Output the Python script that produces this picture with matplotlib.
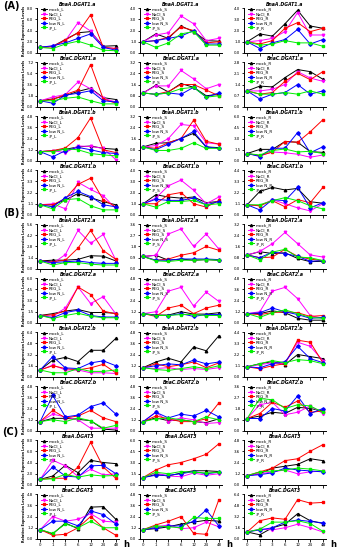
import numpy as np
import matplotlib
matplotlib.use("Agg")
import matplotlib.pyplot as plt

# time points (h) and treatments
times = ["0", "1", "3", "6", "12", "24", "48"]
treatments = ["mock", "NaCl", "PEG", "low N", "-P"]
colors = ["#000000", "#FF00FF", "#FF0000", "#0000FF", "#00EE00"]
markers = ["^", "v", "s", "D", "s"]
tissues = ["L", "S", "R"]

genes = ["BnaA.DGAT1.a", "BnaC.DGAT1.a", "BnaA.DGAT1.b", "BnaC.DGAT1.b",
         "BnaA.DGAT2.a", "BnaC.DGAT2.a", "BnaA.DGAT2.b", "BnaC.DGAT2.b",
         "BnaA.DGAT3", "BnaC.DGAT3"]

# y-axis top per row, leaf / stem / root
ymax_L = [8.0, 7.2, 4.8, 4.4, 5.6, 6.0, 6.4, 4.8, 8.0, 4.8]
ymax_S = [4.0, 3.2, 3.2, 4.0, 3.6, 4.8, 4.8, 4.8, 6.0, 4.8]
ymax_R = [4.0, 2.8, 6.0, 4.4, 3.2, 4.8, 4.4, 3.6, 4.8, 6.4]

# relative expression levels: rows = mock, NaCl, PEG, low N, -P
# --- (A) DGAT1
a_dgat1a_L = [[1.0, 1.2, 2.4, 3.6, 3.8, 1.2, 1.3],
              [1.0, 1.2, 2.2, 5.4, 3.9, 1.0, 0.8],
              [1.0, 1.1, 2.3, 3.6, 6.8, 1.0, 0.8],
              [1.0, 1.3, 1.8, 2.6, 3.4, 1.0, 0.5],
              [1.0, 0.8, 1.6, 2.1, 1.4, 0.5, 0.4]]
a_dgat1a_S = [[1.0, 1.7, 1.3, 2.4, 1.9, 1.1, 1.05],
              [1.0, 1.6, 1.8, 3.3, 2.6, 1.1, 1.3],
              [1.0, 1.1, 1.4, 2.3, 2.0, 0.9, 1.0],
              [1.0, 1.1, 1.3, 1.5, 2.0, 0.8, 0.8],
              [1.0, 0.5, 0.9, 1.7, 1.9, 0.7, 0.7]]
a_dgat1a_R = [[1.0, 1.7, 1.5, 2.6, 3.8, 2.4, 2.2],
              [1.0, 1.1, 1.3, 1.9, 3.6, 1.6, 1.6],
              [1.0, 0.8, 1.1, 2.2, 2.7, 1.9, 2.2],
              [1.0, 0.4, 0.9, 1.2, 2.1, 0.8, 1.2],
              [1.0, 0.7, 0.8, 1.1, 0.9, 0.9, 0.6]]

c_dgat1a_L = [[1.0, 1.3, 1.8, 2.5, 3.0, 1.5, 1.2],
              [1.0, 1.6, 2.0, 4.0, 2.9, 1.4, 0.8],
              [1.0, 1.2, 2.0, 2.7, 6.8, 1.3, 0.6],
              [1.0, 0.6, 1.9, 2.2, 2.6, 1.0, 0.8],
              [1.0, 1.0, 1.4, 1.6, 1.0, 0.5, 0.5]]
c_dgat1a_S = [[1.0, 1.55, 1.07, 1.67, 1.4, 0.8, 0.9],
              [1.0, 1.5, 1.5, 2.6, 2.0, 1.3, 1.6],
              [1.0, 0.9, 1.1, 1.6, 1.6, 1.2, 0.8],
              [1.0, 0.9, 1.0, 0.9, 1.4, 0.7, 1.0],
              [1.0, 0.9, 1.0, 1.3, 1.4, 0.7, 0.8]]
c_dgat1a_R = [[1.0, 1.3, 1.25, 1.83, 2.33, 2.2, 1.73],
              [1.0, 1.0, 1.1, 1.4, 2.2, 1.8, 1.6],
              [1.0, 0.8, 0.9, 1.6, 2.1, 1.7, 2.2],
              [1.0, 0.5, 0.8, 0.9, 1.4, 0.8, 1.0],
              [1.0, 0.8, 0.8, 0.9, 0.8, 1.0, 0.8]]

a_dgat1b_L = [[1.0, 1.1, 1.25, 1.5, 1.6, 1.35, 1.25],
              [1.0, 1.1, 0.9, 1.6, 1.55, 1.35, 0.15],
              [1.0, 1.1, 1.4, 2.5, 4.6, 1.2, 0.9],
              [1.0, 0.45, 1.1, 1.45, 1.2, 0.9, 0.8],
              [1.0, 1.0, 1.3, 1.2, 0.8, 0.65, 0.55]]
a_dgat1b_S = [[1.0, 1.26, 1.3, 1.6, 1.97, 1.0, 0.95],
              [1.0, 1.1, 1.6, 2.6, 2.5, 1.3, 1.2],
              [1.0, 0.9, 1.3, 1.6, 2.9, 1.4, 1.2],
              [1.0, 0.8, 1.2, 1.6, 2.1, 1.0, 0.9],
              [1.0, 0.75, 0.75, 0.9, 1.3, 0.9, 0.9]]
a_dgat1b_R = [[1.0, 1.55, 1.55, 2.6, 2.5, 1.25, 1.15],
              [1.0, 0.7, 1.2, 1.1, 0.9, 0.5, 0.8],
              [1.0, 0.7, 1.2, 2.6, 2.5, 3.9, 5.5],
              [1.0, 0.6, 1.7, 1.7, 3.8, 1.1, 1.9],
              [1.0, 0.8, 1.4, 1.6, 1.2, 1.3, 1.0]]

c_dgat1b_L = [[1.0, 1.0, 1.47, 2.1, 1.7, 1.3, 1.0],
              [1.0, 1.1, 0.6, 3.2, 2.5, 1.9, 0.6],
              [1.0, 1.0, 1.6, 3.0, 3.6, 1.5, 0.8],
              [1.0, 0.8, 1.7, 2.3, 1.8, 1.0, 0.8],
              [1.0, 0.6, 1.5, 1.6, 0.9, 0.5, 0.5]]
c_dgat1b_S = [[1.0, 1.8, 1.6, 1.5, 1.6, 1.1, 1.2],
              [1.0, 1.5, 2.6, 3.1, 2.2, 1.0, 1.6],
              [1.0, 1.0, 1.8, 2.0, 1.0, 0.7, 1.3],
              [1.0, 1.4, 1.3, 1.3, 1.5, 0.9, 1.2],
              [1.0, 0.7, 1.2, 1.2, 1.3, 0.9, 1.0]]
c_dgat1b_R = [[1.0, 2.3, 2.7, 2.45, 2.6, 1.3, 1.15],
              [1.0, 0.9, 1.5, 1.1, 0.7, 0.4, 1.1],
              [1.0, 0.9, 1.4, 0.8, 1.5, 1.2, 2.7],
              [1.0, 0.5, 1.5, 1.4, 2.7, 0.7, 1.2],
              [1.0, 1.0, 1.4, 1.7, 1.4, 0.9, 0.6]]

# --- (B) DGAT2
a_dgat2a_L = [[1.0, 1.1, 1.1, 1.2, 1.65, 1.6, 1.0],
              [1.0, 0.7, 1.8, 4.8, 3.2, 4.3, 1.1],
              [1.0, 0.9, 1.1, 2.6, 4.8, 2.3, 1.2],
              [1.0, 0.8, 0.9, 1.0, 0.8, 0.7, 0.7],
              [1.0, 0.5, 0.8, 0.8, 0.6, 0.5, 0.5]]
a_dgat2a_S = [[1.0, 1.1, 0.7, 0.8, 0.7, 0.75, 0.7],
              [1.0, 1.1, 2.8, 3.2, 1.8, 2.8, 1.6],
              [1.0, 0.7, 0.8, 1.1, 1.3, 1.8, 1.5],
              [1.0, 0.7, 0.7, 0.8, 0.8, 0.8, 0.75],
              [1.0, 0.65, 0.6, 0.7, 0.7, 0.75, 0.7]]
a_dgat2a_R = [[1.0, 1.23, 1.1, 1.15, 0.75, 0.52, 0.55],
              [1.0, 1.25, 1.8, 2.6, 1.8, 1.0, 0.85],
              [1.0, 0.8, 0.85, 1.4, 0.9, 0.7, 0.6],
              [1.0, 0.8, 1.2, 1.1, 0.9, 0.55, 0.6],
              [1.0, 0.65, 1.2, 1.4, 0.85, 0.8, 0.6]]

c_dgat2a_L = [[1.0, 1.25, 1.6, 1.8, 1.4, 1.4, 1.3],
              [1.0, 0.9, 2.0, 4.8, 2.6, 3.5, 1.2],
              [1.0, 1.1, 1.6, 4.8, 3.8, 1.6, 1.2],
              [1.0, 0.7, 1.4, 1.7, 1.0, 0.8, 0.8],
              [1.0, 0.6, 1.0, 1.3, 0.9, 0.7, 0.7]]
c_dgat2a_S = [[1.0, 0.85, 0.85, 1.2, 0.95, 0.95, 1.1],
              [1.0, 1.2, 3.4, 3.8, 1.8, 3.3, 2.3],
              [1.0, 0.7, 1.6, 1.9, 1.0, 1.6, 1.9],
              [1.0, 0.8, 0.8, 1.0, 0.7, 0.9, 0.9],
              [1.0, 0.8, 0.8, 0.9, 0.9, 0.8, 0.8]]
c_dgat2a_R = [[1.0, 1.0, 1.3, 1.1, 0.5, 0.3, 0.3],
              [1.0, 1.2, 3.4, 3.8, 2.6, 0.8, 0.5],
              [1.0, 0.9, 1.1, 1.2, 1.1, 0.7, 0.8],
              [1.0, 1.1, 1.6, 1.2, 0.9, 0.5, 0.6],
              [1.0, 0.6, 1.1, 1.4, 1.0, 0.6, 0.5]]

a_dgat2b_L = [[1.0, 2.4, 2.8, 2.2, 3.8, 3.8, 5.5],
              [1.0, 1.7, 1.0, 1.0, 0.6, 0.6, 0.5],
              [1.0, 1.6, 1.2, 1.0, 1.3, 1.8, 0.6],
              [1.0, 2.9, 1.3, 1.2, 2.0, 2.3, 1.6],
              [1.0, 0.6, 0.6, 1.2, 0.8, 0.8, 1.0]]
a_dgat2b_S = [[1.0, 1.6, 2.0, 1.6, 3.2, 2.8, 4.4],
              [1.0, 0.9, 1.0, 0.8, 0.9, 0.8, 1.0],
              [1.0, 1.4, 1.1, 1.3, 1.6, 1.0, 1.5],
              [1.0, 1.2, 1.4, 1.3, 1.8, 1.4, 1.6],
              [1.0, 0.8, 0.7, 0.9, 1.1, 0.9, 1.2]]
a_dgat2b_R = [[1.0, 1.3, 1.5, 1.2, 2.2, 2.0, 1.8],
              [1.0, 1.2, 1.4, 1.3, 3.4, 3.0, 1.6],
              [1.0, 0.8, 1.1, 1.3, 3.6, 3.4, 1.4],
              [1.0, 0.9, 1.3, 1.5, 3.0, 1.8, 1.4],
              [1.0, 1.3, 1.6, 1.4, 1.7, 1.6, 1.3]]

c_dgat2b_L = [[1.0, 1.35, 1.35, 1.25, 1.1, 0.2, 0.1],
              [1.0, 1.8, 1.5, 1.2, 0.3, 0.3, 0.3],
              [1.0, 2.2, 1.4, 1.6, 2.2, 1.4, 1.0],
              [1.0, 3.8, 1.5, 1.7, 2.6, 3.0, 1.8],
              [1.0, 1.2, 1.0, 1.4, 1.1, 0.3, 0.6]]
c_dgat2b_S = [[1.0, 1.4, 1.1, 1.2, 1.0, 0.9, 1.3],
              [1.0, 2.0, 1.0, 1.4, 1.2, 0.8, 0.9],
              [1.0, 1.6, 1.3, 1.0, 1.0, 1.3, 3.0],
              [1.0, 2.0, 1.4, 1.8, 1.6, 2.2, 1.5],
              [1.0, 1.3, 1.4, 1.2, 1.0, 1.5, 1.2]]
c_dgat2b_R = [[1.0, 1.2, 1.5, 1.4, 1.9, 1.8, 1.6],
              [1.0, 2.1, 2.3, 1.3, 1.5, 2.0, 1.4],
              [1.0, 1.4, 2.3, 1.9, 2.4, 1.5, 1.6],
              [1.0, 1.0, 1.8, 1.6, 2.8, 1.4, 1.8],
              [1.0, 2.6, 2.5, 1.8, 2.1, 2.0, 1.5]]

# --- (C) DGAT3
a_dgat3_L = [[1.0, 1.6, 3.5, 2.2, 4.4, 4.0, 3.8],
             [1.0, 4.4, 3.4, 1.5, 2.8, 1.8, 2.0],
             [1.0, 1.2, 1.2, 3.2, 7.6, 3.2, 1.2],
             [1.0, 3.2, 1.6, 1.4, 3.4, 3.5, 2.0],
             [1.0, 1.1, 1.9, 1.4, 1.8, 1.6, 1.7]]
a_dgat3_S = [[1.0, 1.4, 1.2, 1.6, 1.9, 1.9, 1.8],
             [1.0, 1.6, 1.2, 1.1, 1.6, 1.3, 1.5],
             [1.0, 2.0, 2.7, 3.0, 3.5, 4.1, 5.5],
             [1.0, 1.3, 1.3, 1.5, 1.8, 1.5, 1.7],
             [1.0, 1.7, 1.5, 1.8, 1.7, 1.6, 1.7]]
a_dgat3_R = [[1.0, 1.2, 1.8, 2.0, 2.2, 2.8, 2.6],
             [1.0, 1.2, 1.4, 1.6, 1.2, 1.4, 1.5],
             [1.0, 1.4, 1.8, 2.6, 2.8, 3.6, 4.3],
             [1.0, 1.1, 1.3, 1.8, 1.6, 1.5, 1.4],
             [1.0, 1.4, 1.5, 1.6, 1.8, 1.7, 1.5]]

c_dgat3_L = [[1.0, 0.55, 1.7, 1.1, 3.4, 3.45, 2.1],
             [1.0, 2.4, 1.9, 2.1, 2.7, 1.9, 1.8],
             [1.0, 0.4, 0.5, 1.2, 2.4, 1.2, 0.4],
             [1.0, 1.9, 1.9, 1.4, 3.0, 2.6, 1.6],
             [1.0, 0.6, 1.6, 1.2, 1.9, 1.2, 1.2]]
c_dgat3_S = [[1.0, 1.1, 1.3, 1.6, 1.8, 2.0, 1.9],
             [1.0, 1.3, 1.5, 1.1, 1.2, 1.8, 1.3],
             [1.0, 1.5, 1.9, 2.4, 0.6, 0.5, 4.2],
             [1.0, 1.2, 1.4, 1.4, 1.9, 3.1, 1.4],
             [1.0, 1.4, 1.3, 1.2, 2.3, 2.2, 2.2]]
c_dgat3_R = [[1.0, 0.6, 1.6, 2.1, 3.6, 2.6, 2.2],
             [1.0, 1.4, 1.3, 1.6, 2.1, 1.6, 1.0],
             [1.0, 2.6, 3.0, 2.8, 5.6, 5.1, 5.2],
             [1.0, 1.3, 1.6, 2.4, 2.7, 2.5, 2.3],
             [1.0, 1.4, 2.4, 2.4, 2.6, 2.2, 1.1]]

panels = [
    [a_dgat1a_L, a_dgat1a_S, a_dgat1a_R],
    [c_dgat1a_L, c_dgat1a_S, c_dgat1a_R],
    [a_dgat1b_L, a_dgat1b_S, a_dgat1b_R],
    [c_dgat1b_L, c_dgat1b_S, c_dgat1b_R],
    [a_dgat2a_L, a_dgat2a_S, a_dgat2a_R],
    [c_dgat2a_L, c_dgat2a_S, c_dgat2a_R],
    [a_dgat2b_L, a_dgat2b_S, a_dgat2b_R],
    [c_dgat2b_L, c_dgat2b_S, c_dgat2b_R],
    [a_dgat3_L, a_dgat3_S, a_dgat3_R],
    [c_dgat3_L, c_dgat3_S, c_dgat3_R],
]
ymaxs = [ymax_L, ymax_S, ymax_R]

W, H = 338, 550
fig = plt.figure(figsize=(W / 100, H / 100), dpi=100)

col_left = [37, 140, 244]
ax_w = 82
ax_h = 45
x = np.arange(len(times))

for r in range(10):
    top = 8 + 54 * r
    for c in range(3):
        ax = fig.add_axes([col_left[c] / W, 1 - (top + ax_h) / H, ax_w / W, ax_h / H])
        data = panels[r][c]
        for k in range(5):
            ax.plot(x, data[k], color=colors[k], marker=markers[k], ms=1.8,
                    lw=0.7, label=treatments[k] + "_" + tissues[c])
        ymax = ymaxs[c][r]
        ax.set_ylim(0, ymax)
        ax.set_xlim(-0.25, 6.25)
        ax.set_yticks(np.linspace(0, ymax, 5))
        ax.set_yticklabels(["%.1f" % v for v in np.linspace(0, ymax, 5)])
        ax.set_xticks(x)
        if r == 9:
            ax.set_xticklabels(times)
            ax.text(6.55, -0.02 * ymax, "h", fontsize=6, fontweight="bold",
                    ha="left", va="top")
        else:
            ax.set_xticklabels([])
        for s in ["top", "right"]:
            ax.spines[s].set_visible(False)
        for s in ["left", "bottom"]:
            ax.spines[s].set_linewidth(0.7)
        ax.tick_params(length=1.8, width=0.6, labelsize=2.9, pad=0.8)
        ax.set_title(genes[r], fontsize=3.3, style="italic", fontweight="bold", pad=1.5)
        if c == 0:
            ax.set_ylabel("Relative Expression Levels", fontsize=2.4, fontweight="bold", labelpad=0.6)
        ax.legend(loc="upper left", bbox_to_anchor=(0.02, 1.06), fontsize=3, frameon=False,
                  handlelength=1.6, labelspacing=0.15, borderpad=0, handletextpad=0.4,
                  markerscale=0.9)

fig.text(3 / W, 1 - 6 / H, "(A)", fontsize=7, fontweight="bold", va="center")
fig.text(3 / W, 1 - 213 / H, "(B)", fontsize=7, fontweight="bold", va="center")
fig.text(2 / W, 1 - 432 / H, "(C)", fontsize=7, fontweight="bold", va="center")

fig.savefig("out.png", dpi=100)
